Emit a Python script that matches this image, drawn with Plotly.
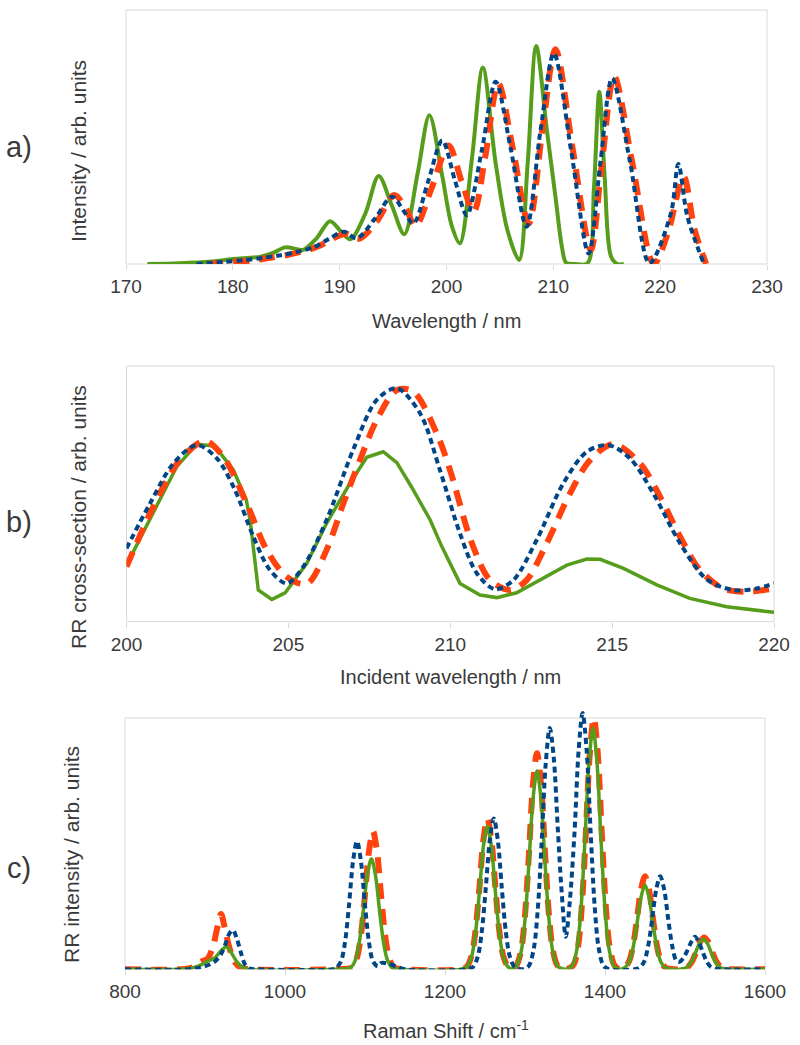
import plotly.graph_objects as go

# ---------------- Panel a: absorption-like spectra ----------------
a_green_x = [172.0, 175.0, 178.0, 180.0, 182.6, 183.8, 184.9, 186.0, 186.6, 187.8, 189.1, 190.1, 191.0,
             192.4, 193.65, 194.9, 196.05, 197.3, 198.4, 199.6, 200.5, 201.25, 202.4, 203.4, 204.6,
             205.7, 206.8, 207.6, 208.4, 209.4, 210.2, 210.8, 211.2, 212.0, 213.2, 213.8, 214.3,
             214.8, 215.4, 216.0, 216.6]
a_green_y = [0.0, 0.3, 1.0, 2.0, 2.9, 4.5, 6.6, 5.9, 5.6, 10.0, 17.0, 13.0, 9.8,
             20.0, 34.9, 23.0, 11.8, 36.0, 59.0, 35.0, 15.0, 8.2, 42.6, 78.0, 40.0,
             13.5, 1.6, 40.0, 86.5, 53.0, 26.7, 6.9, 0.5, 0.0, 0.3, 30.0, 68.4,
             35.0, 3.0, 0.0, 0.0]

a_blue_x = [176.6, 179.0, 181.0, 182.9, 184.5, 186.0, 187.5, 189.0, 190.4, 191.6, 193.3, 194.9, 196.0,
            196.9, 198.3, 199.6, 200.8, 201.9, 203.3, 204.6, 206.0, 207.5, 208.8, 210.05, 211.7,
            213.3, 214.4, 215.5, 217.2, 219.0, 221.0, 221.7, 222.55, 224.1]
a_blue_y = [0.0, 0.8, 1.5, 2.5, 3.5, 4.8, 6.5, 10.0, 12.8, 10.2, 18.0, 26.7, 21.0,
            16.1, 33.0, 49.0, 33.0, 19.4, 45.0, 72.3, 46.0, 14.8, 53.0, 83.6, 44.0,
            4.2, 40.0, 73.7, 40.0, 0.3, 20.0, 39.7, 18.8, 0.0]

a_red_x = [177.6, 180.0, 182.0, 183.5, 185.0, 186.5, 188.0, 189.3, 190.6, 191.8, 193.5, 195.1, 196.2,
           197.1, 198.6, 200.2, 201.4, 202.55, 203.6, 204.85, 206.2, 207.7, 209.0, 210.2, 211.8,
           213.5, 214.5, 215.7, 217.4, 219.4, 220.7, 222.2, 223.2, 224.3]
a_red_y = [0.0, 0.8, 1.5, 2.5, 3.5, 5.0, 7.0, 10.0, 12.0, 10.0, 17.0, 27.4, 22.0,
           15.0, 30.0, 47.0, 33.0, 20.8, 42.0, 71.7, 46.0, 16.1, 54.0, 85.2, 46.0,
           5.6, 38.0, 74.5, 40.0, 0.0, 12.0, 34.7, 14.0, 0.0]

a_ticks = [170, 180, 190, 200, 210, 220, 230]

# ---------------- Panel b: RR cross-sections ----------------
b_green_x = [200.0, 200.83, 201.55, 202.17, 202.73, 203.3, 203.7, 203.82, 204.07, 204.49, 204.9, 205.57,
             206.18, 206.9, 207.42, 207.93, 208.35, 208.8, 209.38, 209.74, 210.3, 210.92, 211.44,
             212.05, 212.88, 213.6, 214.22, 214.63, 215.35, 216.38, 217.4, 218.54, 220.0]
b_green_y = [22.3, 42.7, 61.1, 70.0, 69.2, 59.8, 48.0, 40.0, 12.5, 8.8, 11.4, 23.0,
             38.8, 54.5, 64.8, 67.0, 62.7, 53.2, 40.1, 29.6, 15.1, 10.5, 9.5,
             11.4, 17.1, 22.3, 24.7, 24.6, 21.0, 14.5, 9.2, 5.9, 3.7]

b_blue_x = [200.0, 200.73, 201.45, 202.17, 202.79, 203.35, 203.92, 204.43, 204.95, 205.46, 206.18,
            207.0, 207.73, 208.35, 209.07, 209.68, 210.3, 210.82, 211.38, 211.95, 212.67, 213.49,
            214.22, 214.88, 215.55, 216.27, 217.1, 217.92, 218.74, 219.47, 220.0]
b_blue_y = [28.9, 46.7, 62.4, 69.6, 64.4, 51.9, 33.5, 20.4, 15.1, 21.7, 40.1,
            67.7, 87.4, 92.0, 82.1, 59.8, 34.8, 19.1, 12.8, 16.4, 32.2, 54.5,
            67.0, 69.6, 64.4, 50.6, 30.9, 16.7, 12.5, 13.1, 15.1]

b_red_x = [200.0, 200.93, 201.65, 202.42, 202.99, 203.71, 204.33, 204.95, 205.57, 206.18, 206.7,
           207.21, 207.73, 208.35, 208.86, 209.58, 210.0, 210.67, 211.23, 211.85, 212.36, 212.98,
           213.7, 214.32, 215.04, 215.86, 216.48, 217.1, 217.71, 218.43, 219.15, 220.0]
b_red_y = [21.7, 48.0, 63.7, 71.2, 65.0, 46.7, 28.3, 17.7, 14.9, 28.3, 46.7,
           63.7, 79.5, 91.3, 90.7, 74.3, 59.5, 30.9, 16.4, 12.5, 16.4, 30.9,
           50.6, 63.7, 70.0, 62.4, 49.3, 33.5, 20.4, 13.1, 11.8, 13.1]

b_ticks = [200, 205, 210, 215, 220]

# ---------------- Panel c: RR spectra ----------------
c_green_x = [800, 870, 880, 893, 903, 912, 919, 927, 934, 941, 948, 955,
             1060, 1082, 1088, 1093, 1098, 1103, 1108, 1113, 1118, 1123, 1128, 1134, 1145,
             1220, 1227, 1233, 1238, 1243, 1248, 1253, 1258, 1263, 1268, 1273, 1279, 1284,
             1289, 1295, 1300, 1305, 1310, 1315, 1320, 1325, 1330, 1335, 1341, 1350,
             1359, 1365, 1370, 1375, 1380, 1385, 1390, 1395, 1400, 1405, 1411, 1418,
             1424, 1430, 1435, 1440, 1445, 1450, 1455, 1460, 1465, 1470, 1476, 1485,
             1497, 1503, 1508, 1513, 1518, 1523, 1528, 1533, 1538, 1543, 1549, 1560, 1600]
c_green_y = [0, 0, 0.3, 1.5, 3.2, 4.5, 7.0, 9.0, 6.0, 2.5, 0.6, 0,
             0, 0.7, 3.7, 11.0, 23.8, 37.7, 44.0, 37.7, 23.8, 11.0, 3.7, 0.7, 0,
             0, 0.9, 4.8, 14.2, 30.8, 48.9, 57.0, 48.9, 30.8, 14.2, 4.8, 0.9, 0.2,
             1.2, 6.7, 19.7, 42.7, 67.7, 79.0, 67.7, 42.7, 19.7, 6.7, 1.2, 0,
             1.4, 8.2, 24.0, 51.8, 82.3, 96.0, 82.3, 51.8, 24.0, 8.2, 1.4, 0,
             0.5, 2.8, 8.4, 18.1, 28.7, 33.5, 28.7, 18.1, 8.4, 2.8, 0.5, 0,
             0.2, 1.0, 3.0, 6.5, 10.3, 12.0, 10.3, 6.5, 3.0, 1.0, 0.2, 0, 0]

c_red_x = [800, 870, 885, 895, 903, 910, 915, 920, 925, 931, 938, 946, 955,
           1060, 1084, 1090, 1095, 1100, 1105, 1110, 1115, 1120, 1125, 1130, 1136, 1147,
           1220, 1227, 1233, 1238, 1243, 1248, 1253, 1258, 1263, 1268, 1273, 1279, 1284,
           1289, 1295, 1300, 1305, 1310, 1315, 1320, 1325, 1330, 1335, 1341, 1350,
           1360, 1366, 1371, 1376, 1381, 1386, 1391, 1396, 1401, 1406, 1412, 1419,
           1424, 1430, 1435, 1440, 1445, 1450, 1455, 1460, 1465, 1470, 1476, 1486,
           1498, 1504, 1509, 1514, 1519, 1524, 1529, 1534, 1539, 1544, 1550, 1560, 1600]
c_red_y = [0, 0, 0.8, 3.0, 4.2, 9.0, 16.0, 22.0, 16.0, 8.0, 2.5, 0.5, 0,
           0, 0.8, 4.7, 13.8, 29.7, 47.0, 55.0, 47.0, 29.7, 13.8, 4.7, 0.8, 0,
           0, 0.9, 5.1, 15.0, 32.4, 51.4, 60.0, 51.4, 32.4, 15.0, 5.1, 0.9, 0.2,
           1.3, 7.3, 21.5, 46.4, 73.7, 86.0, 73.7, 46.4, 21.5, 7.3, 1.3, 0,
           1.5, 8.5, 25.0, 54.0, 85.7, 100.0, 85.7, 54.0, 25.0, 8.5, 1.5, 0,
           0.6, 3.1, 9.3, 20.0, 31.7, 37.0, 31.7, 20.0, 9.3, 3.1, 0.6, 0,
           0.2, 1.1, 3.2, 6.9, 10.9, 12.7, 10.9, 6.9, 3.2, 1.1, 0.2, 0, 0]

c_blue_x = [800, 880, 895, 905, 912, 920, 926, 931, 935, 940, 945, 950, 956, 965,
            1060, 1064, 1070, 1075, 1080, 1085, 1090, 1095, 1100, 1105, 1110, 1116, 1120, 1130, 1140, 1150,
            1226, 1235, 1241, 1246, 1251, 1256, 1261, 1266, 1271, 1276, 1281, 1287, 1295,
            1300, 1305, 1311, 1316, 1321, 1326, 1331, 1336, 1341, 1346, 1351, 1356, 1362, 1367, 1372,
            1377, 1382, 1387, 1392, 1398, 1405,
            1437, 1443, 1449, 1454, 1459, 1464, 1469, 1474, 1479, 1484, 1489, 1493,
            1498, 1503, 1508, 1512.5, 1517, 1522, 1527, 1532, 1538, 1548, 1600]
c_blue_y = [0, 0, 0.8, 1.8, 3.0, 6.0, 10.5, 14.5, 15.6, 12.0, 6.5, 2.0, 0.3, 0,
            0, 0.5, 3.2, 10.7, 25.5, 42.8, 51.0, 42.8, 25.5, 10.7, 3.2, 1.2, 2.5, 2.2, 1.0, 0,
            0, 0.9, 5.1, 15.0, 32.4, 51.4, 60.0, 51.4, 32.4, 15.0, 5.1, 0.9, 0,
            0.3, 1.5, 8.2, 24.0, 51.8, 82.3, 96.0, 84.0, 56.0, 30.0, 13.0, 27.0, 55.0, 87.0, 102.0,
            87.4, 55.0, 25.5, 8.7, 1.5, 0,
            0, 0.6, 3.1, 9.3, 20.0, 31.7, 37.0, 31.7, 20.0, 9.3, 3.5, 3.0,
            4.5, 7.5, 11.0, 13.0, 11.0, 7.0, 3.2, 1.0, 0.2, 0, 0]

c_ticks = [800, 1000, 1200, 1400, 1600]

GREEN = "#579d1c"
RED = "#ff420e"
BLUE = "#004586"
TXT = "#3a3a3a"
FRAME = "#d9d9d9"

W, H = 800, 1045


def px(x):
    return x / W


def py(y):
    return 1 - y / H


fig = go.Figure()


def add(x, y, color, width, dash, xa, ya, shape="spline"):
    fig.add_trace(go.Scatter(x=x, y=y, mode="lines",
                             line=dict(color=color, width=width, dash=dash, shape=shape,
                                       smoothing=0.9 if shape == "spline" else None),
                             xaxis=xa, yaxis=ya, showlegend=False, hoverinfo="skip"))


# panel a
add(a_green_x, a_green_y, GREEN, 4, "solid", "x", "y")
add(a_red_x, a_red_y, RED, 6, "16px,10px", "x", "y")
add(a_blue_x, a_blue_y, BLUE, 4, "6px,4px", "x", "y")
# panel b
add(b_green_x, b_green_y, GREEN, 3.5, "solid", "x2", "y2", shape="linear")
add(b_red_x, b_red_y, RED, 6, "16px,10px", "x2", "y2")
add(b_blue_x, b_blue_y, BLUE, 4, "6px,4px", "x2", "y2")
# panel c
add(c_red_x, c_red_y, RED, 6, "16px,10px", "x3", "y3")
add(c_green_x, c_green_y, GREEN, 3.5, "solid", "x3", "y3")
add(c_blue_x, c_blue_y, BLUE, 4, "6px,4px", "x3", "y3")

FONT = "Liberation Sans, Arial, sans-serif"
tickfont = dict(family=FONT, size=19, color=TXT)


def xax(domain, rng, ticks, anchor):
    return dict(domain=domain, range=rng, tickvals=ticks, ticktext=[str(t) for t in ticks],
                anchor=anchor, showgrid=False, zeroline=False, showline=False, automargin=False,
                ticks="outside", ticklen=5, tickcolor=FRAME, tickfont=tickfont, fixedrange=True)


def yax(domain, rng, anchor):
    return dict(domain=domain, range=rng, anchor=anchor, showgrid=False, zeroline=False,
                showline=False, showticklabels=False, ticks="", automargin=False, fixedrange=True)


# geometry (pixels)
a_l, a_r, a_t, a_b = 126, 767, 10, 264
b_l, b_r, b_t, b_b = 126.5, 774, 366, 621.7
c_l, c_r, c_t, c_b = 125, 765, 708, 969.3
c_frame_top = 718

fig.update_layout(
    template="none",
    width=W, height=H, margin=dict(l=0, r=0, t=0, b=0, pad=0), autosize=False,
    paper_bgcolor="white", plot_bgcolor="white",
    xaxis=xax([px(a_l), px(a_r)], [170, 230], a_ticks, "y"),
    yaxis=yax([py(a_b), py(a_t)], [0, (a_b - a_t) / 2.52], "x"),
    xaxis2=xax([px(b_l), px(b_r)], [200, 220], b_ticks, "y2"),
    yaxis2=yax([py(b_b), py(b_t)], [0, (b_b - b_t) / 2.537], "x2"),
    xaxis3=xax([px(c_l), px(c_r)], [800, 1600], c_ticks, "y3"),
    yaxis3=yax([py(c_b), py(c_t)], [0, (c_b - c_t) / 2.513], "x3"),
)

# frames
fig.add_shape(type="rect", xref="x domain", yref="y domain", x0=0, x1=1, y0=0, y1=1,
              line=dict(color=FRAME, width=1), layer="below")
fig.add_shape(type="rect", xref="x2 domain", yref="y2 domain", x0=0, x1=1, y0=0, y1=1,
              line=dict(color=FRAME, width=1), layer="below")
fig.add_shape(type="rect", xref="x3 domain", yref="y3", x0=0, x1=1, y0=0,
              y1=(c_b - c_frame_top) / 2.513,
              line=dict(color=FRAME, width=1), layer="below")

xtitle_font = dict(family=FONT, size=20, color=TXT)
ytitle_font = dict(family=FONT, size=21, color=TXT)
label_font = dict(family=FONT, size=29, color=TXT)


def ann(text, x, y, font, angle=0):
    fig.add_annotation(text=text, x=px(x), y=py(y), xref="paper", yref="paper",
                       showarrow=False, font=font, textangle=angle,
                       xanchor="center", yanchor="middle")


ann("Wavelength / nm", 446, 321, xtitle_font)
ann("Incident wavelength / nm", 450, 677, xtitle_font)
ann("Raman Shift / cm<sup>-1</sup>", 446, 1029, xtitle_font)
ann("Intensity / arb. units", 78, 151, ytitle_font, -90)
ann("RR cross-section / arb. units", 78, 517, ytitle_font, -90)
ann("RR intensity / arb. units", 71, 855, ytitle_font, -90)
ann("a)", 19, 147, label_font)
ann("b)", 19, 522, label_font)
ann("c)", 19, 868, label_font)

fig.write_html("out.html", config={"displayModeBar": False, "staticPlot": True},
               post_script="document.body.style.margin='0px';document.body.style.padding='0px';")
